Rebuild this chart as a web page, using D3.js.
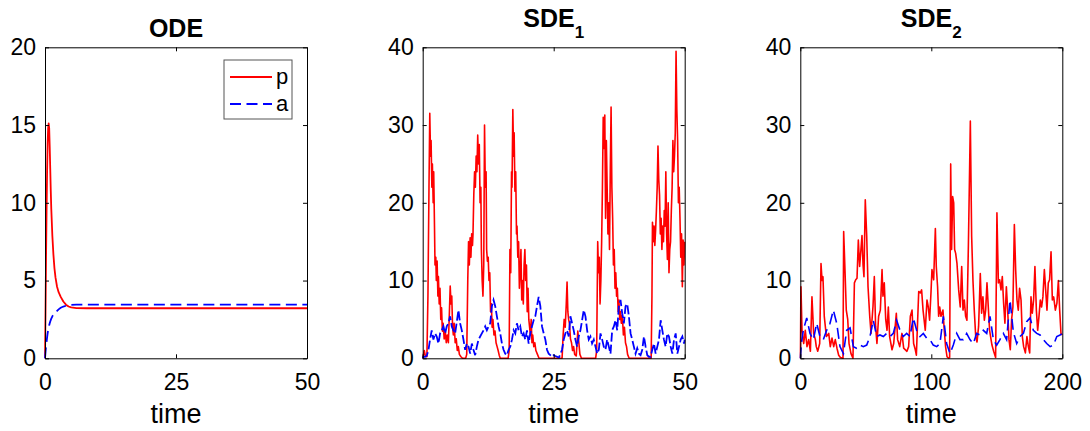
<!DOCTYPE html>
<html>
<head>
<meta charset="utf-8">
<script src="https://cdn.jsdelivr.net/npm/d3@7"></script>
<style>
  body { margin: 0; background: #fff; }
  text { font-family: "Liberation Sans", Arial, Helvetica, sans-serif; fill: #000; }
</style>
</head>
<body>
<svg id="graphic" width="1090" height="431"></svg>
<script>
// ---- data: [time, value] ----
const odeP = [[0,0],[0.1,3],[0.2,6.5],[0.3,9.5],[0.4,12],[0.5,13.8],[0.6,14.8],[0.7,15.1],[0.8,14.8],[0.9,13.6],
  [1.0,12.2],[1.1,10.8],[1.2,9.6],[1.4,7.9],[1.6,6.7],[1.8,5.8],[2.0,5.2],[2.3,4.6],[2.6,4.25],[3.0,3.95],
  [3.5,3.65],[4.0,3.45],[4.5,3.33],[5.0,3.27],[6.0,3.23],[8,3.22],[50,3.22]];
const odeA = [[0,0],[0.1,0.4],[0.2,0.75],[0.3,1.05],[0.4,1.35],[0.5,1.6],[0.6,1.8],[0.7,1.98],[0.8,2.12],[0.9,2.25],
  [1.0,2.37],[1.2,2.55],[1.4,2.7],[1.6,2.8],[1.8,2.88],[2.0,2.95],[2.3,3.05],[2.6,3.15],[3.0,3.25],[3.5,3.33],
  [4.0,3.38],[4.5,3.42],[5.0,3.44],[6,3.45],[8,3.45],[50,3.45]];

const sde1P = [[0,0],[0.3,1],[0.5,0.3],[0.8,0.2],[1.0,8],[1.2,22],[1.35,31.5],[1.5,26],[1.6,28],[1.75,22],[1.85,25],
  [2.0,20],[2.1,24],[2.25,17],[2.35,12],[2.5,13],[2.6,10],[2.75,12.5],[2.9,8],[3.0,10.5],[3.15,7],[3.3,9],[3.45,5],
  [3.6,6.5],[3.75,3.5],[3.9,4.5],[4.1,2.5],[4.3,3.5],[4.5,2],[4.7,3],[4.9,2],[5.1,6],[5.25,9.3],[5.4,7],[5.55,8],
  [5.7,4],[5.85,3],[6.0,4.5],[6.2,2],[6.4,2.5],[6.6,1],[6.8,1.5],[7.0,0.5],[7.3,0.2],[7.6,0],[8.2,0],[8.4,0.5],
  [8.6,10],[8.75,15],[8.9,12],[9.05,15.5],[9.2,13],[9.35,16],[9.5,14.5],[9.6,16],[9.75,21],[9.9,24],[10.05,22],
  [10.2,26],[10.35,24],[10.5,28.7],[10.65,25],[10.8,27.5],[10.95,20],[11.1,22],[11.2,14],[11.35,10],[11.5,8],
  [11.65,12],[11.8,30],[11.95,22],[12.1,24],[12.2,14],[12.35,12.5],[12.5,13],[12.65,10],[12.8,11],[12.95,6],
  [13.1,7],[13.25,4],[13.4,5],[13.6,3],[13.8,3.5],[14.0,2],[14.2,1.5],[14.4,1],[14.6,0.4],[14.8,0],[16.3,0],
  [16.5,1],[16.65,14],[16.8,11],[16.95,24],[17.05,22],[17.2,32],[17.35,26],[17.45,29],[17.6,21.5],[17.75,24],
  [17.9,16],[18.0,17],[18.15,13],[18.3,15],[18.45,9],[18.6,11],[18.75,14],[18.9,7.5],[19.05,10],[19.2,7],
  [19.35,12],[19.5,14],[19.65,10],[19.8,12],[19.95,6],[20.1,9],[20.25,5],[20.4,4],[20.55,3],[20.7,5],[20.85,2],
  [21.0,3],[21.2,1.5],[21.4,2],[21.6,1],[21.9,0.5],[22.2,0],[26.6,0],[26.8,3],[27.0,5],[27.2,4],[27.4,7],
  [27.55,9.8],[27.7,6],[27.85,5],[28.0,4.5],[28.2,2.5],[28.4,2],[28.6,1],[28.8,1.5],[29.0,0.5],[29.3,0.3],
  [29.6,3.5],[29.8,2],[30.0,0.5],[30.3,0],[33.0,0],[33.2,1],[33.4,15],[33.55,11],[33.7,13],[33.85,7],[34.0,10],
  [34.15,15],[34.3,22],[34.45,31],[34.6,27],[34.75,31.3],[34.9,18],[35.05,28],[35.2,22],[35.35,16],[35.5,20],
  [35.65,14],[35.8,24],[35.95,32.3],[36.1,22],[36.25,18],[36.4,12],[36.55,14],[36.7,9],[36.85,11],[37.0,8],
  [37.15,9],[37.3,6],[37.45,7.5],[37.6,5],[37.75,6],[37.9,4.5],[38.1,5.5],[38.3,3],[38.5,4],[38.7,2],[38.9,1.5],
  [39.1,0.5],[39.4,0],[43.6,0],[43.75,8],[43.85,17.5],[44.0,15],[44.15,17],[44.3,14.5],[44.45,16.5],[44.6,19],
  [44.75,22],[44.9,27.3],[45.05,23],[45.2,21],[45.35,16],[45.5,18],[45.65,14],[45.8,17],[45.95,15],[46.1,19],
  [46.25,17],[46.4,24],[46.55,16],[46.7,12.7],[46.85,20],[47.0,11],[47.15,14],[47.3,15],[47.45,19],[47.6,22],
  [47.75,28],[47.9,24],[48.05,26],[48.2,29],[48.35,39.5],[48.5,32],[48.65,28],[48.8,20],[48.95,22],[49.1,18],
  [49.25,13],[49.4,16],[49.55,9.2],[49.7,15.2],[49.85,12],[50.0,15]];

const sde1A = [[0,0],[0.13,0.2],[0.45,0.2],[0.77,0.3],[1.08,1.0],[1.4,2.4],[1.72,3.6],[2.04,2.4],[2.36,3.2],
  [2.68,2.8],[3.0,1.9],[3.32,3.2],[3.64,3.6],[3.95,4.1],[4.27,3.2],[4.59,4.1],[4.91,4.5],[5.23,5.4],[5.55,4.1],
  [5.87,3.6],[6.19,3.2],[6.51,4.7],[6.82,6.2],[7.14,4.5],[7.46,3.6],[7.78,2.4],[8.1,1.1],[8.42,1.9],[8.74,1.5],
  [9.06,0.6],[9.38,1.9],[9.69,1.1],[10.01,0.4],[10.33,1.5],[10.65,2.4],[10.97,2.8],[11.29,3.2],[11.61,3.6],
  [11.93,4.1],[12.24,3.6],[12.56,4.1],[12.88,4.5],[13.2,6.7],[13.52,7.5],[13.84,6.7],[14.16,5.4],[14.48,4.1],
  [14.8,3.2],[15.12,1.9],[15.43,1.1],[15.75,0.6],[16.07,0.4],[16.39,1.1],[16.71,1.5],[17.03,2.4],[17.35,3.6],
  [17.67,3.2],[17.98,4.5],[18.3,3.6],[18.62,4.1],[18.94,2.8],[19.26,3.2],[19.58,2.4],[19.9,3.6],[20.22,1.9],
  [20.54,3.2],[20.85,4.1],[21.17,4.9],[21.49,5.4],[21.81,6.7],[22.13,7.9],[22.45,6.7],[22.77,4.1],[23.09,3.2],
  [23.41,2.4],[23.72,1.1],[24.04,0.6],[24.36,0.4],[24.68,0.2],[25.0,0.4],[25.3,0.3],[26.0,0.1],[26.59,1.1],
  [26.91,2.4],[27.23,3.2],[27.55,3.6],[27.87,2.8],[28.19,5.4],[28.51,4.5],[28.82,3.6],[29.14,2.4],[29.46,1.5],
  [29.78,2.8],[30.1,3.6],[30.42,4.9],[30.74,6.2],[31.06,5.4],[31.38,3.6],[31.69,2.4],[32.01,2.8],[32.33,1.9],
  [32.65,2.4],[32.97,1.5],[33.29,0.6],[33.61,1.1],[33.93,3.2],[34.25,2.4],[34.56,1.5],[34.88,1.1],[35.2,2.4],
  [35.52,1.5],[35.84,0.6],[36.16,3.6],[36.48,4.1],[36.8,4.9],[37.12,3.6],[37.43,6.7],[37.75,7.5],[38.07,5.8],
  [38.39,4.5],[38.71,6.7],[39.03,7.0],[39.35,5.4],[39.67,3.2],[39.99,2.4],[40.3,1.5],[40.62,0.6],[40.94,1.3],
  [41.26,0.6],[41.58,0.4],[41.9,1.1],[42.22,2.8],[42.54,1.5],[42.86,0.4],[43.17,0.2],[43.49,0.2],[43.81,1.1],
  [44.13,1.9],[44.45,0.6],[44.77,1.5],[45.09,2.4],[45.41,4.9],[45.73,3.6],[46.04,2.4],[46.36,1.5],[46.68,3.2],
  [47.0,2.8],[47.32,1.5],[47.64,0.6],[47.96,2.4],[48.28,3.2],[48.6,0.6],[48.92,1.5],[49.23,2.4],[49.55,2.8],
  [49.87,1.9],[50,2.4]];

const sde2P = [[0,0],[0.5,9.2],[1.3,3.6],[2.6,1.9],[3.8,3.6],[5.1,1.5],[6.4,2.4],[7.7,0.9],[8.9,7.9],[10.2,3.2],
  [11.5,2.4],[12.2,1.5],[13.3,0.9],[14.8,1.9],[15.8,12.2],[16.6,10],[17.3,10.5],[18.3,5.4],[19.9,2.8],[21.7,3.2],
  [22.9,1.5],[24.2,2.6],[25.5,1.5],[26.7,2.4],[28.0,1.3],[29.3,0.4],[30.6,0.1],[32.6,0],[33.1,16.3],[34.1,11.4],
  [35.1,6.2],[36.2,5],[37.2,1.9],[38.7,0.6],[40.2,0],[41.3,9.7],[42.3,10.1],[43.3,10.3],[44.3,15.2],[45.3,11.8],
  [46.3,14],[47.1,15.8],[47.9,12],[48.6,10.5],[49.6,20.4],[50.7,15.7],[51.7,9.2],[53.0,5.4],[54.0,3.2],[55.5,6.7],
  [56.5,10.5],[57.5,4.1],[58.5,1.9],[59.8,5.4],[61.1,6.2],[62.4,11.4],[63.1,8.0],[64.1,9.7],[65.2,5.0],[66.2,3.6],
  [67.2,6.6],[68.2,2.8],[70.0,1.1],[71.3,1.9],[73.3,5.8],[74.3,2.4],[75.9,1.5],[77.6,3.2],[78.9,1.3],[81.4,0.9],
  [82.7,1.5],[84.0,5.4],[85.3,6.2],[86.5,1.9],[87.8,1.1],[88.6,0.4],[89.6,5.0],[90.4,8.6],[91.6,8.4],[92.6,8.8],
  [93.7,6.2],[95.4,3.6],[96.7,7.5],[97.7,6.6],[98.7,4.9],[99.8,8.6],[100.5,11.4],[101.8,10.1],[103.1,16.7],
  [103.8,11.8],[104.8,9.2],[105.6,5.4],[106.4,6.6],[107.4,5.4],[108.9,6.2],[109.9,3.6],[110.9,1.5],[112.0,0.2],
  [113.2,0],[114.0,0.1],[114.8,25],[115.5,14],[116.3,20.8],[117.1,20],[117.8,14],[118.6,13.5],[119.6,12.2],
  [120.9,8.8],[122.1,6.6],[123.2,11.8],[124.2,6.2],[125.2,7.5],[126.2,5.4],[127.2,4.9],[128.3,14.4],[129.3,25],
  [129.8,30.5],[130.8,15.7],[131.8,10],[132.8,6.2],[133.9,2.8],[134.9,2.1],[136.1,4.1],[137.4,10.9],[138.4,5.8],
  [139.4,7.9],[140.5,4.9],[141.5,6.2],[142.5,9.7],[143.5,6.6],[144.5,3.6],[146.3,1.7],[147.6,0.9],[149.1,0.1],
  [150.1,18.7],[151.2,9.7],[152.2,10.1],[153.2,8.8],[154.2,10.5],[155.2,7.1],[156.2,4.5],[157.3,9.2],[158.3,6.2],
  [159.3,2.4],[160.3,1.1],[161.3,5.0],[162.3,6.6],[163.4,17.2],[164.4,11.4],[165.4,7.5],[166.4,6.2],[167.4,9.0],
  [168.5,7.5],[169.5,2.8],[170.5,1.5],[171.8,0.7],[173.0,2.8],[174.1,1.5],[175.1,0.7],[176.1,7.9],[177.1,5.8],
  [178.1,7.5],[179.1,11.8],[180.2,6.2],[181.2,3.6],[182.2,5.4],[183.2,7.5],[184.2,6.6],[185.2,7.9],[186.3,11.4],
  [187.3,8.8],[188.3,6.2],[189.3,9.7],[190.3,10.1],[191.4,13.7],[192.4,7.5],[193.4,7.9],[194.7,6.2],[195.9,7.1],
  [197.0,10],[198.0,6.2],[199.0,3.2],[200,3.0]];

const sde2A = [[0,0],[0.8,1.9],[2.3,3.6],[4.9,5.2],[7.4,3.2],[10.0,2.4],[12.5,4.5],[15.0,2.8],[17.6,2.4],[20.1,3.6],
  [22.7,4.5],[25.2,6.2],[27.8,4.5],[30.3,1.5],[32.9,0.6],[35.4,3.6],[38.0,3.9],[40.5,1.5],[43.0,1.3],[45.6,1.7],
  [48.1,1.5],[50.7,1.7],[53.2,2.8],[55.7,4.9],[58.3,2.8],[60.8,3.0],[63.4,2.8],[65.9,3.2],[68.5,2.8],[71.0,3.2],
  [73.5,4.9],[76.1,3.6],[78.6,2.8],[81.2,3.2],[83.7,2.8],[86.3,5.2],[88.8,3.6],[91.4,2.8],[93.9,3.2],[96.4,2.6],
  [99.0,2.4],[101.5,1.7],[104.1,1.5],[106.6,1.9],[109.2,5.4],[111.7,1.9],[114.3,0.6],[116.8,1.7],[119.4,3.2],
  [121.9,2.4],[124.4,2.4],[127.0,3.2],[129.5,2.4],[132.1,1.9],[134.6,3.2],[137.2,3.0],[139.7,3.6],[142.3,3.2],
  [144.8,5.4],[147.4,2.4],[149.9,1.7],[152.4,2.4],[155.0,3.2],[157.5,2.4],[160.1,7.5],[162.6,3.4],[165.2,1.9],
  [167.7,2.8],[170.3,3.2],[172.8,4.7],[175.4,5.2],[177.9,3.6],[180.5,3.2],[183.0,3.0],[185.6,2.4],[188.1,1.9],
  [190.7,1.5],[193.2,1.7],[195.8,2.8],[198.3,3.0],[200,3.2]];

// ---- tick labels / titles ----
const panelTitles = [['ODE', null], ['SDE', '1'], ['SDE', '2']];
const xTickValues = [[0, 25, 50], [0, 25, 50], [0, 100, 200]];
const yTickValues = [[0, 5, 10, 15, 20], [0, 10, 20, 30, 40], [0, 10, 20, 30, 40]];
const legendLabels = ['p', 'a'];

const svg = d3.select('#graphic');
const plotLefts = [45, 422.7, 800.3];
const plotTop = 47.3, plotW = 262, plotH = 311;
const red = '#ff0000', blue = '#0000ff';

const seriesByPanel = [[odeP, odeA], [sde1P, sde1A], [sde2P, sde2A]];

function drawPanel(i) {
    const g = svg.append('g').attr('transform', `translate(${plotLefts[i]},${plotTop})`);
    const xt = xTickValues[i], yt = yTickValues[i];
    const x = d3.scaleLinear().domain([xt[0], xt[xt.length - 1]]).range([0, plotW]);
    const y = d3.scaleLinear().domain([yt[0], yt[yt.length - 1]]).range([plotH, 0]);

    g.append('rect').attr('width', plotW).attr('height', plotH).attr('fill', '#fff');

    const clipId = 'clip' + i;
    g.append('clipPath').attr('id', clipId)
        .append('rect').attr('x', -1).attr('y', -1).attr('width', plotW + 2).attr('height', plotH + 2);

    const line = d3.line().x(d => x(d[0])).y(d => y(d[1]));
    const [pData, aData] = seriesByPanel[i];
    const lw = i === 0 ? 1.8 : 1.6;

    g.append('path').datum(pData)
        .attr('clip-path', `url(#${clipId})`)
        .attr('d', line).attr('fill', 'none')
        .attr('stroke', red).attr('stroke-width', lw).attr('stroke-linejoin', 'round');

    g.append('path').datum(aData)
        .attr('clip-path', `url(#${clipId})`)
        .attr('d', line).attr('fill', 'none')
        .attr('stroke', blue).attr('stroke-width', i === 1 ? 1.8 : lw)
        .attr('stroke-dasharray', i === 1 ? '9,3' : '11,5.5');

    // axes with inward ticks on all four sides
    g.append('g').attr('class', 'axis').attr('transform', `translate(0,${plotH})`)
        .call(d3.axisBottom(x).tickValues(xt).tickSizeInner(-4).tickSizeOuter(0).tickPadding(15));
    g.append('g').attr('class', 'axis')
        .call(d3.axisLeft(y).tickValues(yt).tickSizeInner(-4).tickSizeOuter(0).tickPadding(9));
    g.append('g').attr('class', 'axis')
        .call(d3.axisTop(x).tickValues(xt).tickSizeInner(-4).tickSizeOuter(0).tickFormat(''));
    g.append('g').attr('class', 'axis').attr('transform', `translate(${plotW},0)`)
        .call(d3.axisRight(y).tickValues(yt).tickSizeInner(-4).tickSizeOuter(0).tickFormat(''));

    g.selectAll('.axis path, .axis line').attr('stroke', '#000').attr('stroke-width', 1);
    g.selectAll('.axis text').attr('font-size', 23).attr('fill', '#000')
        .attr('font-family', '"Liberation Sans", Arial, sans-serif');

    // x label
    g.append('text')
        .attr('x', plotW / 2).attr('y', 423 - plotTop)
        .attr('text-anchor', 'middle').attr('font-size', 27)
        .text('time');

    // title
    const [main, sub] = panelTitles[i];
    const title = g.append('text')
        .attr('x', plotW / 2).attr('y', (sub ? 27 : 36.7) - plotTop)
        .attr('text-anchor', 'middle').attr('font-size', 25).attr('font-weight', 'bold');
    title.append('tspan').text(main);
    if (sub) {
        title.append('tspan').attr('dy', 11).attr('font-size', 17).text(sub);
    }

    // legend in the first panel
    if (i === 0) {
        const lg = g.append('g').attr('transform', `translate(${224 - plotLefts[0]},${60 - plotTop})`);
        lg.append('rect').attr('width', 68).attr('height', 59)
            .attr('fill', '#fff').attr('stroke', '#555').attr('stroke-width', 1);
        legendLabels.forEach((lab, k) => {
            const ly = 17 + k * 27;
            lg.append('line').attr('x1', 6).attr('x2', 48).attr('y1', ly).attr('y2', ly)
                .attr('stroke', k === 0 ? red : blue).attr('stroke-width', 1.8)
                .attr('stroke-dasharray', k === 0 ? null : '11,5.5');
            lg.append('text').attr('x', 52).attr('y', ly).attr('dy', '0.32em')
                .attr('font-size', 22).text(lab);
        });
    }
}

[0, 1, 2].forEach(drawPanel);
</script>
</body>
</html>
